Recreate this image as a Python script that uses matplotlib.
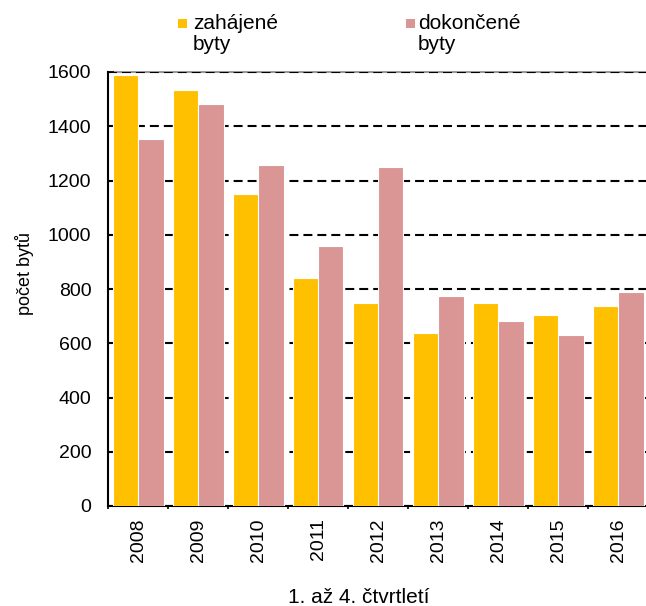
import matplotlib
matplotlib.use("Agg")
import matplotlib.pyplot as plt
from matplotlib.patches import Rectangle
import numpy as np

plt.rcParams['font.family'] = ['Liberation Sans', 'DejaVu Sans']

years = ["2008", "2009", "2010", "2011", "2012", "2013", "2014", "2015", "2016"]
zahajene = [1589, 1534, 1151, 841, 747, 638, 748, 704, 737]
dokoncene = [1354, 1481, 1256, 957, 1251, 774, 682, 629, 789]
series_names = ["zahájené\nbyty", "dokončené\nbyty"]
colors = ["#FFC000", "#DA9694"]
yticks = [0, 200, 400, 600, 800, 1000, 1200, 1400, 1600]

W, H = 646, 606
fig = plt.figure(figsize=(W/100, H/100), dpi=100)
ax = fig.add_axes([108/W, 100/H, 540/W, 434/H])

x = np.arange(len(years))
w = 0.42
b1 = ax.bar(x - w/2 - 0.005, zahajene, w, color=colors[0], edgecolor="white", linewidth=0.8, zorder=3)
b2 = ax.bar(x + w/2 + 0.005, dokoncene, w, color=colors[1], edgecolor="white", linewidth=0.8, zorder=3)

ax.set_xlim(-0.5, len(years) - 0.5)
ax.set_ylim(0, 1600)
ax.set_yticks(yticks)
ax.set_yticklabels([str(v) for v in yticks], fontsize=14)
ax.set_xticks(x)
ax.set_xticklabels(years, rotation=90, fontsize=14)
ax.set_xticks(np.arange(len(years) + 1) - 0.5, minor=True)
ax.tick_params(axis='x', which='major', length=0, pad=9)
ax.tick_params(axis='x', which='minor', length=2, width=1.2, direction='out')
ax.tick_params(axis='y', length=4, direction='in', width=1.2, pad=12)
ax.yaxis.grid(True, linestyle=(0, (4.3, 2.4)), color="black", linewidth=1.5, zorder=0.5)
ax.set_axisbelow(True)
ax.spines["right"].set_visible(False)
ax.spines["top"].set_color("#999999")
ax.spines["top"].set_linewidth(1.5)
ax.spines["top"].set_zorder(0.1)
ax.spines["left"].set_linewidth(1.5)
ax.spines["bottom"].set_linewidth(1.5)

ax.set_ylabel("počet bytů", fontsize=13)
ax.yaxis.set_label_coords(-0.137, 0.535)
ax.set_xlabel("1. až 4. čtvrtletí", fontsize=15)
ax.xaxis.set_label_coords(0.465, -0.19)

# legend drawn manually
leg_sq_x = [178, 406]
leg_tx_x = [193, 418]
for sx, tx, name, c in zip(leg_sq_x, leg_tx_x, series_names, colors):
    fig.patches.append(Rectangle((sx/W, 1 - 28/H), 9/W, 9/H, transform=fig.transFigure,
                                 facecolor=c, edgecolor='none'))
    fig.text(tx/W, 1 - 14/H, name, fontsize=15, va='top', ha='left', linespacing=1.1)

fig.savefig("out.png", dpi=100)
